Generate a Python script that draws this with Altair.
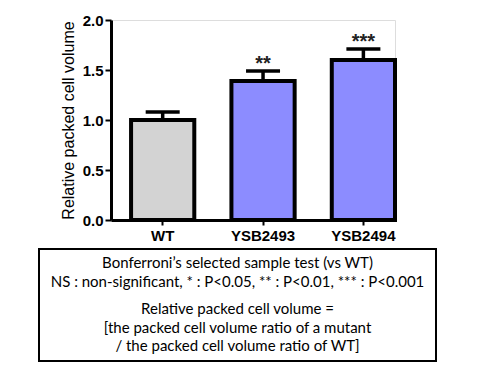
import altair as alt
import pandas as pd

strains = ["WT", "YSB2493", "YSB2494"]
means = [1.00, 1.39, 1.60]
upper = [1.08, 1.49, 1.71]
stars = ["", "**", "***"]
fills = ["#d3d3d3", "#8c8cff", "#8c8cff"]

note_lines = [
    "Bonferroni\u2019s selected sample test (vs WT)",
    "NS : non-significant, * : P<0.05, ** : P<0.01, *** : P<0.001",
    "Relative packed cell volume =",
    "[the packed cell volume ratio of a mutant",
    "/ the packed cell volume ratio of WT]",
]
note_y = [243, 262, 289, 308, 326]

df = pd.DataFrame({"strain": strains, "mean": means, "upper": upper,
                   "star": stars, "fill": fills})
notes = pd.DataFrame({"line": note_lines, "ypx": note_y})

AX_FONT = "Liberation Sans"

xscale = alt.Scale(domain=strains, paddingInner=0.37, paddingOuter=0.1, align=1)
yscale = alt.Scale(domain=[0, 2])

x = alt.X("strain:N", scale=xscale, sort=strains,
          axis=alt.Axis(title=None, labelAngle=0, labelFont=AX_FONT,
                        labelFontWeight="bold", labelFontSize=15, labelColor="black",
                        domainColor="black", domainWidth=3, tickColor="black",
                        tickWidth=2, tickSize=5, labelPadding=3))
y = alt.Y("mean:Q", scale=yscale,
          axis=alt.Axis(title="Relative packed cell volume", values=[0, 0.5, 1, 1.5, 2],
                        format=".1f", grid=False, labelFont=AX_FONT,
                        labelFontWeight="bold", labelFontSize=15, labelColor="black",
                        titleFont=AX_FONT, titleFontSize=16,
                        titleFontWeight="normal", titleColor="black", titlePadding=6,
                        domainColor="black", domainWidth=3, tickColor="black",
                        tickWidth=2, tickSize=6, labelPadding=2))

base = alt.Chart(df)

bars = base.mark_bar(stroke="black", strokeWidth=4).encode(
    x=x, y=y, fill=alt.Fill("fill:N", scale=None))

err = base.mark_rule(color="black", strokeWidth=3.5).encode(
    x=alt.X("strain:N", scale=xscale, sort=strains),
    y=alt.Y("mean:Q", scale=yscale), y2="upper:Q")

cap = base.mark_tick(color="black", size=34, thickness=3.5, opacity=1).encode(
    x=alt.X("strain:N", scale=xscale, sort=strains),
    y=alt.Y("upper:Q", scale=yscale))

star_text = base.mark_text(font=AX_FONT, fontSize=20, fontWeight="bold",
                           color="#222222", baseline="middle", dy=-7).encode(
    x=alt.X("strain:N", scale=xscale, sort=strains),
    y=alt.Y("upper:Q", scale=yscale), text="star:N")

box = alt.Chart(pd.DataFrame({"k": [0]})).mark_rect(
    fill="white", fillOpacity=0, stroke="black", strokeWidth=2).encode(
    x=alt.value(-72), x2=alt.value(325), y=alt.value(229), y2=alt.value(341))

note_text = alt.Chart(notes).mark_text(font="Lato", fontSize=15, color="black",
                                       baseline="middle", align="center").encode(
    x=alt.value(126.5), y=alt.Y("ypx:Q", scale=None), text="line:N")

chart = alt.layer(bars, err, cap, star_text, box, note_text).properties(
    width=284, height=200,
    autosize=alt.AutoSizeParams(type="none"),
    padding={"left": 103, "top": 12, "right": 60, "bottom": 150},
).configure_view(stroke=None).configure(background="white")

chart.save("out.html", embed_options={"renderer": "svg", "actions": False})
